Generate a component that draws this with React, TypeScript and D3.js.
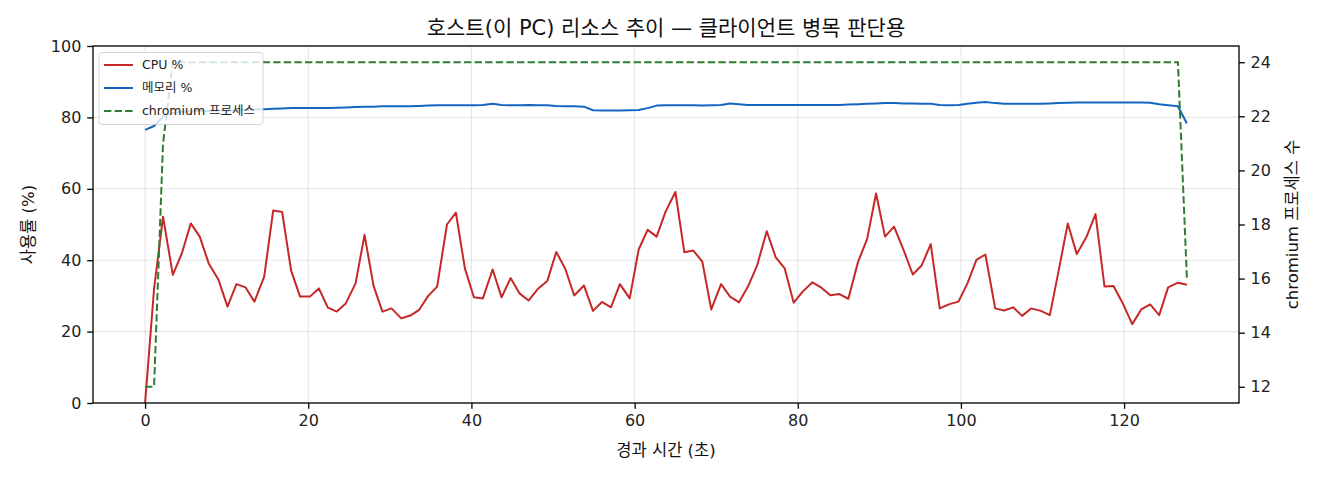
import { useEffect, useRef } from 'react';
import {
  select,
  scaleLinear,
  line,
  axisBottom,
  axisLeft,
  axisRight,
  extent,
} from 'd3';

// elapsed seconds of each host sample
const elapsedSec = [
  0, 1.1, 2.2, 3.4, 4.5, 5.6, 6.7, 7.8, 9.0, 10.1,
  11.2, 12.3, 13.4, 14.6, 15.7, 16.8, 17.9, 19.0, 20.2, 21.3,
  22.4, 23.5, 24.6, 25.8, 26.9, 28.0, 29.1, 30.2, 31.4, 32.5,
  33.6, 34.7, 35.8, 37.0, 38.1, 39.2, 40.3, 41.4, 42.6, 43.7,
  44.8, 45.9, 47.0, 48.2, 49.3, 50.4, 51.5, 52.6, 53.8, 54.9,
  56.0, 57.1, 58.2, 59.4, 60.5, 61.6, 62.7, 63.8, 65.0, 66.1,
  67.2, 68.3, 69.4, 70.6, 71.7, 72.8, 73.9, 75.0, 76.2, 77.3,
  78.4, 79.5, 80.6, 81.8, 82.9, 84.0, 85.1, 86.2, 87.4, 88.5,
  89.6, 90.7, 91.8, 93.0, 94.1, 95.2, 96.3, 97.4, 98.6, 99.7,
  100.8, 101.9, 103.0, 104.2, 105.3, 106.4, 107.5, 108.6, 109.8, 110.9,
  112.0, 113.1, 114.2, 115.4, 116.5, 117.6, 118.7, 119.8, 121.0, 122.1,
  123.2, 124.3, 125.4, 126.6, 127.7,
];

const cpuPct = [
  0, 32.0, 52.2, 35.9, 41.9, 50.3, 46.6, 39.1, 34.5, 27.0,
  33.3, 32.4, 28.4, 35.4, 53.9, 53.5, 37.1, 29.8, 29.8, 32.1,
  26.7, 25.6, 27.9, 33.5, 47.1, 32.8, 25.6, 26.5, 23.7, 24.5,
  26.1, 30.0, 32.6, 50.0, 53.3, 37.7, 29.6, 29.3, 37.4, 29.6,
  35.0, 30.7, 28.7, 32.1, 34.2, 42.3, 37.6, 30.1, 32.9, 25.8,
  28.3, 26.8, 33.3, 29.3, 43.0, 48.5, 46.6, 53.6, 59.1, 42.2,
  42.7, 39.6, 26.2, 33.3, 29.8, 28.2, 32.6, 38.4, 48.1, 40.8,
  37.7, 28.1, 31.2, 33.8, 32.3, 30.2, 30.5, 29.2, 39.6, 45.9,
  58.7, 46.6, 49.4, 42.7, 36.0, 38.6, 44.5, 26.5, 27.7, 28.4,
  33.5, 40.1, 41.6, 26.5, 25.9, 26.8, 24.4, 26.5, 25.8, 24.6,
  37.3, 50.3, 41.7, 46.6, 52.9, 32.6, 32.8, 28.1, 22.1, 26.2,
  27.6, 24.6, 32.4, 33.7, 33.1,
];

const memPct = [
  76.5, 77.6, 80.2, 81.2, 81.6, 81.7, 81.8, 81.8, 81.9, 81.9,
  82.0, 82.1, 82.2, 82.3, 82.4, 82.5, 82.6, 82.6, 82.6, 82.6,
  82.6, 82.7, 82.8, 82.9, 83.0, 83.0, 83.1, 83.1, 83.1, 83.1,
  83.2, 83.3, 83.4, 83.4, 83.4, 83.4, 83.4, 83.5, 83.8, 83.5,
  83.4, 83.4, 83.5, 83.4, 83.4, 83.2, 83.1, 83.1, 83.0, 82.0,
  81.9, 81.9, 81.9, 82.0, 82.1, 82.6, 83.3, 83.4, 83.4, 83.4,
  83.4, 83.3, 83.4, 83.5, 83.9, 83.7, 83.5, 83.5, 83.5, 83.5,
  83.5, 83.5, 83.5, 83.5, 83.5, 83.5, 83.5, 83.6, 83.7, 83.8,
  83.9, 84.0, 84.0, 83.9, 83.9, 83.8, 83.8, 83.5, 83.4, 83.5,
  83.8, 84.1, 84.3, 84.0, 83.8, 83.8, 83.8, 83.8, 83.8, 83.9,
  84.0, 84.1, 84.2, 84.2, 84.2, 84.2, 84.2, 84.2, 84.2, 84.2,
  84.1, 83.7, 83.4, 83.1, 78.3,
];

const chromiumProcs = [
  12, 12, 21, 24, 24, 24, 24, 24, 24, 24,
  24, 24, 24, 24, 24, 24, 24, 24, 24, 24,
  24, 24, 24, 24, 24, 24, 24, 24, 24, 24,
  24, 24, 24, 24, 24, 24, 24, 24, 24, 24,
  24, 24, 24, 24, 24, 24, 24, 24, 24, 24,
  24, 24, 24, 24, 24, 24, 24, 24, 24, 24,
  24, 24, 24, 24, 24, 24, 24, 24, 24, 24,
  24, 24, 24, 24, 24, 24, 24, 24, 24, 24,
  24, 24, 24, 24, 24, 24, 24, 24, 24, 24,
  24, 24, 24, 24, 24, 24, 24, 24, 24, 24,
  24, 24, 24, 24, 24, 24, 24, 24, 24, 24,
  24, 24, 24, 24, 16,
];

const xTicks = [0, 20, 40, 60, 80, 100, 120];
const yLeftTicks = [0, 20, 40, 60, 80, 100];
const yRightTicks = [12, 14, 16, 18, 20, 22, 24];

const seriesLabels = ['CPU %', '메모리 %', 'chromium 프로세스'];
const seriesColors = ['#c62828', '#1565c0', '#2e7d32'];

const W = 1320;
const H = 480;
const margin = { top: 46, right: 81, bottom: 77, left: 93 };
const FONT = '"DejaVu Sans", "Noto Sans CJK KR", sans-serif';
const DASH = '7.4,3.2';

const App = () => {
  const svgRef = useRef<SVGSVGElement>(null);

  useEffect(() => {
    if (!svgRef.current) return;
    const svg = select(svgRef.current);
    svg.selectAll('*').remove();

    const x0 = margin.left;
    const x1 = W - margin.right;
    const y0 = margin.top;
    const y1 = H - margin.bottom;

    const [tMin, tMax] = extent(elapsedSec) as [number, number];
    const tPad = (tMax - tMin) * 0.05;
    const x = scaleLinear().domain([tMin - tPad, tMax + tPad]).range([x0, x1]);
    const yL = scaleLinear().domain([0, 100]).range([y1, y0]);
    const [pMin, pMax] = extent(chromiumProcs) as [number, number];
    const pPad = (pMax - pMin) * 0.05;
    const yR = scaleLinear().domain([pMin - pPad, pMax + pPad]).range([y1, y0]);

    const defs = svg.append('defs');
    defs
      .append('clipPath')
      .attr('id', 'plot-clip')
      .append('rect')
      .attr('x', x0)
      .attr('y', y0)
      .attr('width', x1 - x0)
      .attr('height', y1 - y0);

    // grid
    const grid = svg.append('g').attr('stroke', '#b0b0b0').attr('stroke-opacity', 0.3).attr('stroke-width', 1.1);
    xTicks.forEach((t) => {
      grid.append('line').attr('x1', x(t)).attr('x2', x(t)).attr('y1', y0).attr('y2', y1);
    });
    yLeftTicks.forEach((t) => {
      grid.append('line').attr('x1', x0).attr('x2', x1).attr('y1', yL(t)).attr('y2', yL(t));
    });

    const plot = svg.append('g').attr('clip-path', 'url(#plot-clip)');

    const cpuLine = line<number>()
      .x((_, i) => x(elapsedSec[i]))
      .y((d) => yL(d));
    const procLine = line<number>()
      .x((_, i) => x(elapsedSec[i]))
      .y((d) => yR(d));

    plot
      .append('path')
      .attr('d', cpuLine(cpuPct))
      .attr('fill', 'none')
      .attr('stroke', seriesColors[0])
      .attr('stroke-width', 2)
      .attr('stroke-linejoin', 'round');
    plot
      .append('path')
      .attr('d', cpuLine(memPct))
      .attr('fill', 'none')
      .attr('stroke', seriesColors[1])
      .attr('stroke-width', 2)
      .attr('stroke-linejoin', 'round');

    // legend (belongs to the left axes, so the twin line is drawn over it)
    const lg = svg.append('g').attr('font-family', FONT).attr('font-size', 12.5);
    lg.append('rect')
      .attr('x', 99)
      .attr('y', 52.5)
      .attr('width', 164)
      .attr('height', 72)
      .attr('rx', 3)
      .attr('fill', '#fff')
      .attr('fill-opacity', 0.8)
      .attr('stroke', '#cccccc')
      .attr('stroke-opacity', 0.8)
      .attr('stroke-width', 1);
    seriesLabels.forEach((label, i) => {
      const ry = 65 + i * 23;
      lg.append('line')
        .attr('x1', 104)
        .attr('x2', 133)
        .attr('y1', ry)
        .attr('y2', ry)
        .attr('stroke', seriesColors[i])
        .attr('stroke-width', 2)
        .attr('stroke-dasharray', i === 2 ? DASH : null);
      lg.append('text')
        .attr('x', 142)
        .attr('y', ry)
        .attr('dy', '0.35em')
        .attr('fill', '#222')
        .text(label);
    });

    plot
      .append('path')
      .attr('d', procLine(chromiumProcs))
      .attr('fill', 'none')
      .attr('stroke', seriesColors[2])
      .attr('stroke-width', 2)
      .attr('stroke-dasharray', DASH);

    // axes
    const styleAxis = (g: any) => {
      g.select('.domain').remove();
      g.selectAll('.tick line').attr('stroke', '#000').attr('stroke-width', 1.3);
      g.selectAll('.tick text').attr('fill', '#222').attr('font-size', 16).attr('font-family', FONT);
    };
    svg
      .append('g')
      .attr('transform', `translate(0,${y1})`)
      .call(axisBottom(x).tickValues(xTicks).tickSize(5.8).tickPadding(5.5).tickFormat((d) => `${d}`))
      .call(styleAxis);
    svg
      .append('g')
      .attr('transform', `translate(${x0},0)`)
      .call(axisLeft(yL).tickValues(yLeftTicks).tickSize(5.8).tickPadding(5.8).tickFormat((d) => `${d}`))
      .call(styleAxis);
    svg
      .append('g')
      .attr('transform', `translate(${x1},0)`)
      .call(axisRight(yR).tickValues(yRightTicks).tickSize(5.8).tickPadding(5.8).tickFormat((d) => `${d}`))
      .call(styleAxis);

    // spines
    svg
      .append('rect')
      .attr('x', x0)
      .attr('y', y0)
      .attr('width', x1 - x0)
      .attr('height', y1 - y0)
      .attr('fill', 'none')
      .attr('stroke', '#000')
      .attr('stroke-width', 1.3);

    const txt = svg.append('g').attr('font-family', FONT).attr('fill', '#111');
    txt
      .append('text')
      .attr('x', (x0 + x1) / 2)
      .attr('y', 35)
      .attr('text-anchor', 'middle')
      .attr('font-size', 21)
      .text('호스트(이 PC) 리소스 추이 — 클라이언트 병목 판단용');
    txt
      .append('text')
      .attr('x', (x0 + x1) / 2)
      .attr('y', 456)
      .attr('text-anchor', 'middle')
      .attr('font-size', 16.5)
      .text('경과 시간 (초)');
    txt
      .append('text')
      .attr('transform', `translate(28,${(y0 + y1) / 2}) rotate(-90)`)
      .attr('text-anchor', 'middle')
      .attr('dy', '0.35em')
      .attr('font-size', 16.5)
      .text('사용률 (%)');
    txt
      .append('text')
      .attr('transform', `translate(1292,${(y0 + y1) / 2}) rotate(-90)`)
      .attr('text-anchor', 'middle')
      .attr('dy', '0.35em')
      .attr('font-size', 16.5)
      .text('chromium 프로세스 수');
  }, []);

  return (
    <svg
      ref={svgRef}
      width={W}
      height={H}
      style={{ position: 'absolute', left: 0, top: 0, background: '#fff' }}
    />
  );
};

export default App;
